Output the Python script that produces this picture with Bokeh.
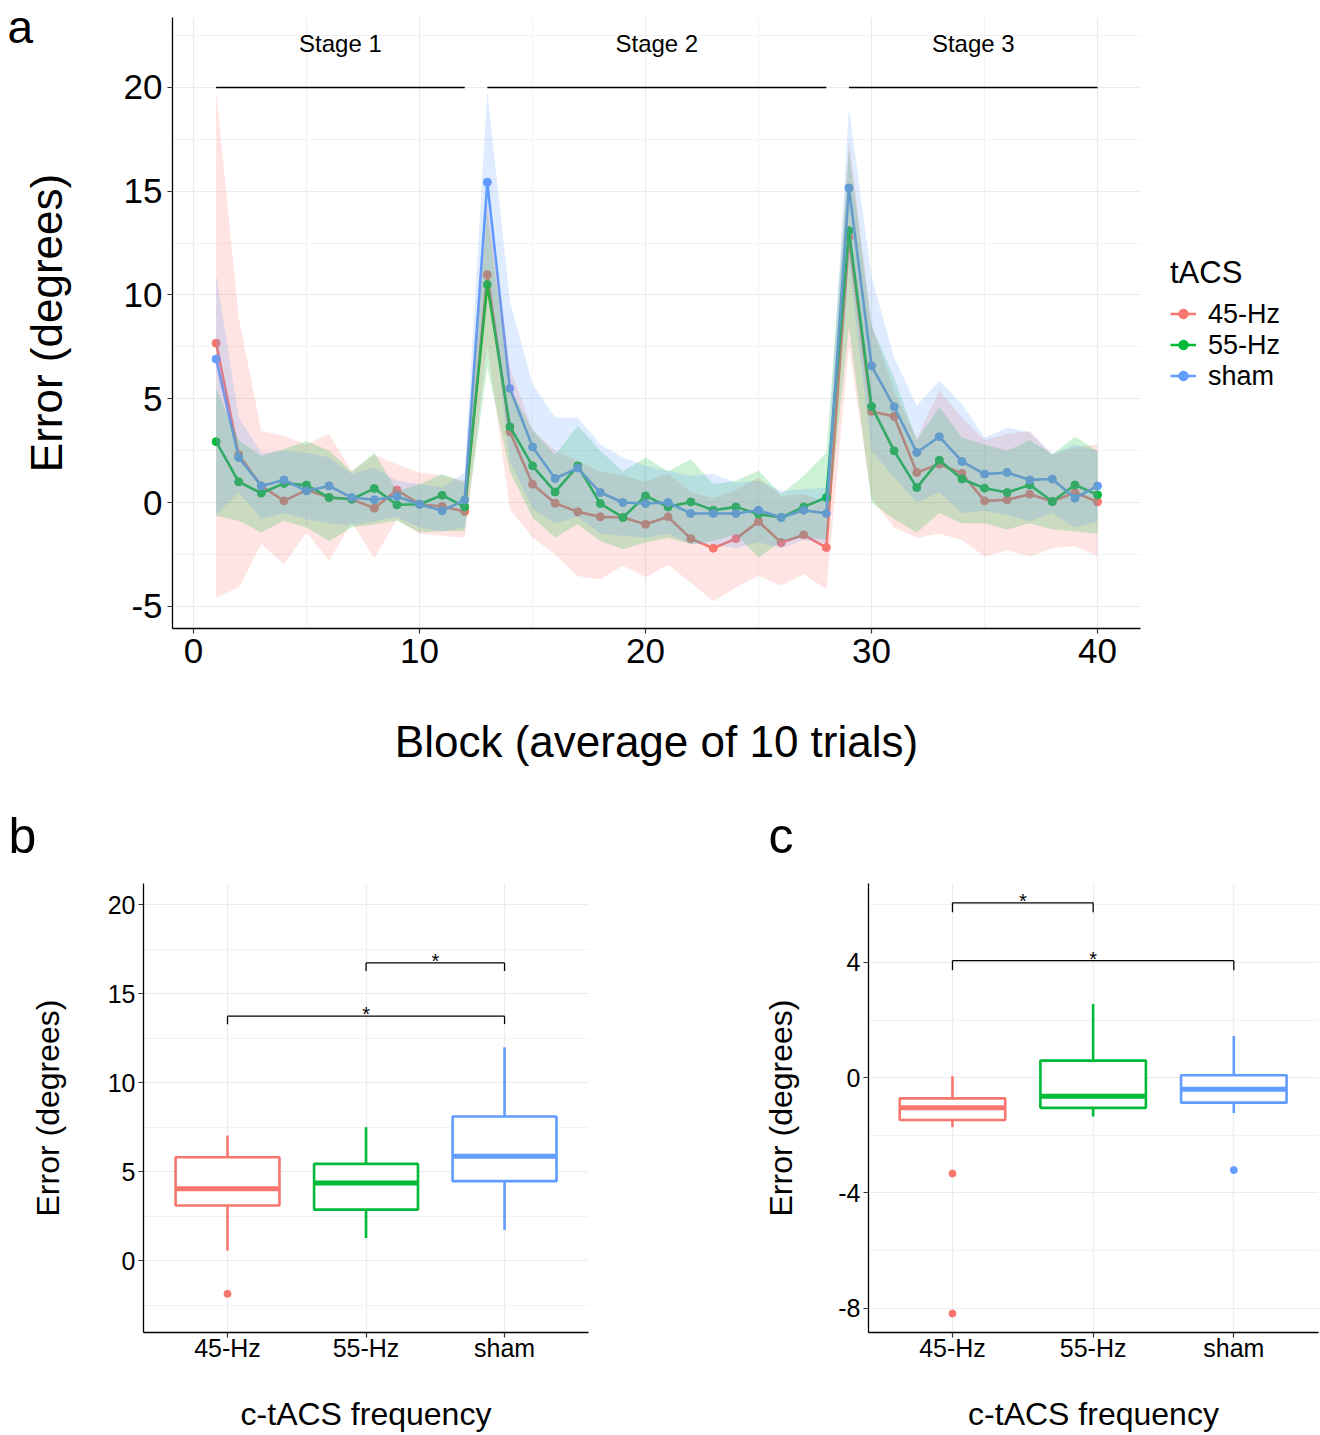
from bokeh.plotting import figure
from bokeh.models import (ColumnDataSource, Legend, LegendItem, Title,
                          SingleIntervalTicker, FixedTicker, Range1d)
from bokeh.layouts import column, row
from bokeh.embed import file_html
from bokeh.resources import INLINE
from bokeh.core.properties import value

FONT = "Liberation Sans"

# ---------------- data: panel a ----------------
blocks = list(range(1, 41))

red_mean = [7.68, 2.30, 0.80, 0.08, 0.60, 0.24, 0.16, -0.27, 0.60, -0.08, -0.19, -0.43,
            10.98, 3.41, 0.88, -0.03, -0.45, -0.69, -0.72, -1.05, -0.69, -1.74, -2.20, -1.74,
            -0.92, -1.93, -1.56, -2.17,
            12.78, 4.39, 4.15, 1.45, 1.85, 1.40, 0.08, 0.13, 0.40, 0.05, 0.48, 0.03]
red_hi = [19.8, 8.9, 3.45, 3.2, 2.8, 3.3, 1.5, 2.3, 1.85, 1.45, 1.3, 1.05,
          14.5, 6.5, 3.5, 2.5, 2.0, 1.5, 1.3, 1.0, 1.4, 0.5, 0.2, 0.6, 1.2, 0.3, 0.4, 0.0,
          17.5, 8.6, 5.4, 3.1, 5.4, 4.1, 3.0, 3.3, 3.45, 2.3, 2.65, 2.8]
red_lo = [-4.58, -4.1, -2.0, -2.97, -1.45, -2.8, -0.96, -2.7, -0.8, -1.5, -1.6, -1.7,
          7.5, -0.32, -1.69, -2.5, -3.54, -3.7, -3.05, -3.6, -3.0, -3.86, -4.74, -4.1,
          -3.54, -4.0, -3.46, -4.18,
          7.5, 0.2, -1.2, -1.7, -1.5, -1.8, -2.6, -2.3, -2.6, -2.2, -2.1, -2.6]

green_mean = [2.93, 1.00, 0.45, 0.92, 0.84, 0.24, 0.16, 0.68, -0.11, -0.08, 0.35, -0.21,
              10.50, 3.65, 1.77, 0.51, 1.77, -0.05, -0.72, 0.32, -0.21, 0.03, -0.37, -0.21,
              -0.56, -0.72, -0.21, 0.24,
              13.10, 4.63, 2.49, 0.72, 2.04, 1.13, 0.69, 0.48, 0.85, 0.05, 0.85, 0.37]
green_hi = [5.5, 3.0, 2.25, 2.57, 2.97, 2.5, 1.5, 2.4, 0.56, 0.88, 1.37, 0.96,
            14.0, 5.5, 3.5, 2.3, 3.7, 2.5, 1.5, 2.17, 1.5, 2.1, 0.88, 1.05, 1.53, 0.4, 1.29, 2.4,
            17.0, 8.5, 6.0, 3.0, 4.6, 3.13, 2.8, 2.5, 3.0, 2.33, 3.17, 2.5]
green_lo = [-0.64, -0.88, -1.45, -0.88, -1.2, -1.85, -1.2, -1.05, -0.88, -1.45, -1.37, -1.37,
            6.5, 1.5, -0.72, -1.7, -1.05, -1.85, -2.25, -1.93, -1.7, -2.0, -1.85, -1.53,
            -2.65, -1.85, -1.7, -1.77,
            8.5, 0.0, -0.8, -1.45, -0.5, -1.0, -1.0, -1.3, -1.0, -1.3, -1.4, -1.5]

blue_mean = [6.91, 2.17, 0.80, 1.09, 0.56, 0.80, 0.24, 0.13, 0.29, -0.08, -0.40, 0.13,
             15.43, 5.50, 2.68, 1.16, 1.66, 0.48, 0.00, -0.05, 0.00, -0.53, -0.53, -0.53,
             -0.37, -0.72, -0.37, -0.53,
             15.16, 6.59, 4.61, 2.41, 3.17, 1.98, 1.37, 1.45, 1.09, 1.13, 0.21, 0.80]
blue_hi = [11.0, 4.1, 2.4, 2.5, 2.4, 2.17, 1.37, 1.69, 1.05, 0.88, 0.72, 1.45,
           19.8, 9.7, 5.7, 4.1, 4.1, 2.8, 2.17, 1.77, 1.53, 1.29, 1.37, 0.96, 1.05, 0.56, 0.64, 0.72,
           19.0, 10.85, 7.0, 4.66, 5.87, 4.74, 3.13, 3.6, 3.38, 2.33, 2.8, 2.5]
blue_lo = [-0.6, 0.5, -0.8, -0.5, -0.8, -1.0, -1.1, -0.9, -0.7, -1.2, -1.4, -1.2,
           11.0, 2.0, -0.3, -1.0, -0.7, -1.5, -1.6, -1.7, -1.5, -2.0, -2.0, -2.2, -1.9, -2.2, -1.8, -2.0,
           11.5, 2.5, 1.2, 0.0, 0.5, -0.5, -0.4, -0.6, -0.9, -0.5, -1.2, -0.9]

stage_names = ["Stage 1", "Stage 2", "Stage 3"]
stage_start = [1, 13, 29]
stage_end = [12, 28, 40]
stage_line_y = [20, 20, 20]
stage_text_y = [22.1, 22.1, 22.1]

groups = ["45-Hz", "55-Hz", "sham"]
colors = ["#F8766D", "#00BA38", "#619CFF"]

a_yticks = [-5, 0, 5, 10, 15, 20]

# ---------------- data: panel b ----------------
b_whisk_lo = [0.56, 1.27, 1.72]
b_q1 = [3.09, 2.86, 4.46]
b_med = [4.03, 4.36, 5.86]
b_q3 = [5.80, 5.43, 8.09]
b_whisk_hi = [7.02, 7.49, 11.98]
b_out_group = ["45-Hz"]
b_out_val = [-1.87]
b_br_from = ["55-Hz", "45-Hz"]
b_br_to = ["sham", "sham"]
b_br_y = [16.72, 13.73]
b_yticks = [0, 5, 10, 15, 20]

# ---------------- data: panel c ----------------
c_whisk_lo = [-1.72, -1.35, -1.23]
c_q1 = [-1.47, -1.05, -0.87]
c_med = [-1.05, -0.65, -0.40]
c_q3 = [-0.72, 0.59, 0.08]
c_whisk_hi = [0.05, 2.56, 1.44]
c_out_group = ["45-Hz", "45-Hz", "sham"]
c_out_val = [-3.33, -8.19, -3.21]
c_br_from = ["45-Hz", "45-Hz"]
c_br_to = ["55-Hz", "sham"]
c_br_y = [6.07, 4.06]
c_yticks = [-8, -4, 0, 4]

# ---------------- helpers ----------------
def style_axes(p, tick_size, label_size, lab_standoff_x, lab_standoff_y, xs1, ys1):
    p.outline_line_color = None
    p.background_fill_color = "white"
    p.border_fill_color = "white"
    for ax in (p.xaxis[0], p.yaxis[0]):
        ax.axis_line_color = "black"
        ax.axis_line_width = 1.3
        ax.major_tick_line_color = "#333333"
        ax.major_tick_line_width = 1.2
        ax.major_tick_out = 5
        ax.major_tick_in = 0
        ax.minor_tick_line_color = None
        ax.major_label_text_font = FONT
        ax.major_label_text_font_size = tick_size
        ax.major_label_text_color = "black"
        ax.axis_label_text_font = FONT
        ax.axis_label_text_font_size = label_size
        ax.axis_label_text_font_style = "normal"
        ax.axis_label_text_color = "black"
    p.xaxis[0].major_label_standoff = xs1
    p.yaxis[0].major_label_standoff = ys1
    p.xaxis[0].axis_label_standoff = lab_standoff_x
    p.yaxis[0].axis_label_standoff = lab_standoff_y
    p.xgrid.grid_line_color = "#EBEBEB"
    p.ygrid.grid_line_color = "#EBEBEB"
    p.xgrid.grid_line_width = 1.2
    p.ygrid.grid_line_width = 1.2
    p.xgrid.minor_grid_line_color = "#F2F2F2"
    p.ygrid.minor_grid_line_color = "#F2F2F2"
    p.xgrid.minor_grid_line_width = 1
    p.ygrid.minor_grid_line_width = 1


def panel_label(p, text, offset, standoff, size):
    p.add_layout(Title(text=text, align="left", vertical_align="bottom", offset=offset,
                       standoff=standoff, text_font=FONT, text_font_size=size,
                       text_font_style="normal", text_color="black"), "above")

# ---------------- panel a ----------------
pa = figure(frame_width=968, frame_height=611,
            x_range=Range1d(-0.93, 41.9), y_range=Range1d(-6.07, 23.37),
            output_backend="svg", toolbar_location=None,
            min_border_left=172, min_border_right=180, min_border_top=17, min_border_bottom=152)
pa.xaxis.ticker = SingleIntervalTicker(interval=10, num_minor_ticks=2)
pa.yaxis.ticker = SingleIntervalTicker(interval=5, num_minor_ticks=2)
pa.yaxis.major_label_overrides = {t: str(t) for t in a_yticks}
pa.xaxis.axis_label = "Block (average of 10 trials)"
pa.yaxis.axis_label = "Error (degrees)"
style_axes(pa, "35px", "44px", 51, 50, 5, 5)

series = [(red_mean, red_lo, red_hi), (green_mean, green_lo, green_hi), (blue_mean, blue_lo, blue_hi)]
legend_items = []
for (m, lo, hi), col, g in zip(series, colors, groups):
    src = ColumnDataSource(dict(block=blocks, mean=m))
    lr = pa.line("block", "mean", source=src, line_color=col, line_width=2.6)
    sr = pa.scatter("block", "mean", source=src, size=8, fill_color=col, line_color=col)
    legend_items.append(LegendItem(label=g, renderers=[lr, sr]))
for (m, lo, hi), col in zip(series, colors):
    src = ColumnDataSource(dict(block=blocks, lo=lo, hi=hi))
    pa.varea(x="block", y1="lo", y2="hi", source=src, fill_color=col, fill_alpha=0.2)

stage_src = ColumnDataSource(dict(x0=stage_start, x1=stage_end, y=stage_line_y,
                                  xm=[(a + b) / 2 for a, b in zip(stage_start, stage_end)],
                                  ty=stage_text_y, name=stage_names))
pa.segment(x0="x0", y0="y", x1="x1", y1="y", source=stage_src, line_color="black", line_width=1.5)
pa.text(x="xm", y="ty", text="name", source=stage_src, text_font=value(FONT),
        text_font_size="24px", text_align="center", text_baseline="middle", text_color="black")

legend = Legend(items=legend_items, title="tACS", location="center_left", orientation="vertical")
legend.title_text_font = FONT
legend.title_text_font_size = "31px"
legend.title_text_font_style = "normal"
legend.title_text_color = "black"
legend.title_standoff = 8
legend.label_text_font = FONT
legend.label_text_font_size = "27px"
legend.label_text_color = "black"
legend.glyph_width = 26
legend.glyph_height = 24
legend.label_standoff = 12
legend.spacing = 0
legend.margin = 30
legend.padding = 10
legend.border_line_color = None
legend.background_fill_alpha = 0
pa.add_layout(legend, "right")

panel_label(pa, "a", -165, -70, "46px")

PA_H = 17 + 611 + 152

# ---------------- box panels ----------------
PB_TOP = 883 - PA_H
PB_H = 1435 - PA_H


def box_panel(wlo, q1, med, q3, whi, out_g, out_v, br_from, br_to, br_y, br_drop,
              yr, xr, yint, yticks, mleft, fw, mright, label_txt, lab_off, yst):
    p = figure(frame_width=fw, frame_height=449, x_range=Range1d(*xr), y_range=Range1d(*yr),
               output_backend="svg", toolbar_location=None,
               min_border_left=mleft, min_border_right=mright, min_border_top=PB_TOP,
               min_border_bottom=PB_H - PB_TOP - 449)
    pos = {g: i + 1 for i, g in enumerate(groups)}
    xs = [pos[g] for g in groups]
    p.xaxis.ticker = FixedTicker(ticks=xs)
    p.xaxis.major_label_overrides = {pos[g]: g for g in groups}
    p.yaxis.ticker = SingleIntervalTicker(interval=yint, num_minor_ticks=2)
    p.yaxis.major_label_overrides = {t: str(t) for t in yticks}
    p.xaxis.axis_label = "c-tACS frequency"
    p.yaxis.axis_label = "Error (degrees)"
    style_axes(p, "25px", "32px", 31, yst, -4, 3)
    p.xgrid.grid_line_color = "#EDEDED"
    src = ColumnDataSource(dict(x=xs, wlo=wlo, q1=q1, med=med, q3=q3, whi=whi, col=colors,
                                ml=[x - 0.375 for x in xs], mr=[x + 0.375 for x in xs]))
    p.segment(x0="x", y0="q3", x1="x", y1="whi", source=src, line_color="col", line_width=2.6)
    p.segment(x0="x", y0="q1", x1="x", y1="wlo", source=src, line_color="col", line_width=2.6)
    p.vbar(x="x", width=0.75, bottom="q1", top="q3", source=src, fill_color="white",
           line_color="col", line_width=2.6)
    p.segment(x0="ml", y0="med", x1="mr", y1="med", source=src, line_color="col", line_width=5)
    osrc = ColumnDataSource(dict(x=[pos[g] for g in out_g], y=out_v,
                                 col=[colors[groups.index(g)] for g in out_g]))
    p.scatter("x", "y", source=osrc, size=7, fill_color="col", line_color="col")
    bx0 = [pos[g] for g in br_from]
    bx1 = [pos[g] for g in br_to]
    bsrc = ColumnDataSource(dict(x0=bx0, x1=bx1, y=br_y, yd=[y - br_drop for y in br_y],
                                 xm=[(a + b) / 2 for a, b in zip(bx0, bx1)], t=["*"] * len(br_y)))
    p.segment(x0="x0", y0="y", x1="x1", y1="y", source=bsrc, line_color="black", line_width=1.3)
    p.segment(x0="x0", y0="y", x1="x0", y1="yd", source=bsrc, line_color="black", line_width=1.3)
    p.segment(x0="x1", y0="y", x1="x1", y1="yd", source=bsrc, line_color="black", line_width=1.3)
    p.text(x="xm", y="y", text="t", source=bsrc, text_font=value(FONT), text_font_size="20px",
           text_align="center", text_baseline="alphabetic", text_color="black", y_offset=-2)
    panel_label(p, label_txt, lab_off, 39, "50px")
    return p

pb = box_panel(b_whisk_lo, b_q1, b_med, b_q3, b_whisk_hi, b_out_group, b_out_val,
               b_br_from, b_br_to, b_br_y, 0.45, (-4.04, 21.18), (0.3935, 3.606), 5, b_yticks,
               143, 445, 72, "b", -135, 39)
pc = box_panel(c_whisk_lo, c_q1, c_med, c_q3, c_whisk_hi, c_out_group, c_out_val,
               c_br_from, c_br_to, c_br_y, 0.33, (-8.85, 6.74), (0.403, 3.602), 4, c_yticks,
               208, 450, 2, "c", -100, 36)

layout = column(pa, row(pb, pc))
open("out.html", "w").write(file_html(layout, INLINE))
